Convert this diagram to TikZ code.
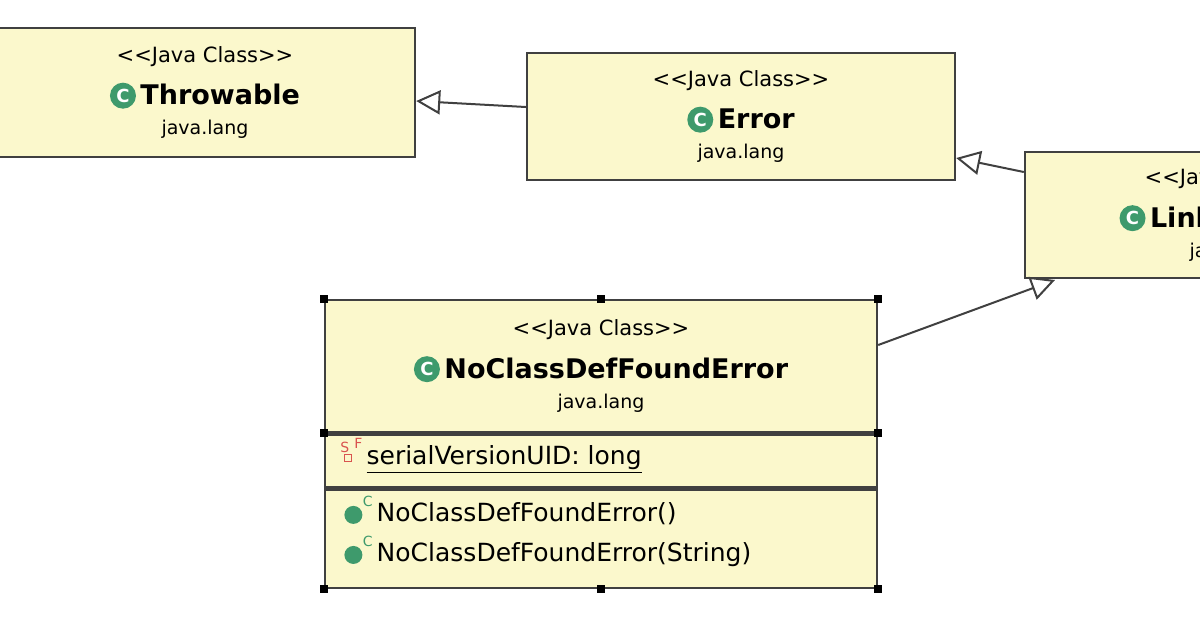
\documentclass[tikz,border=0pt]{standalone}
\usepackage{fontspec}
\setmainfont{DejaVu Sans}
\usetikzlibrary{arrows.meta,positioning}
\definecolor{umlfill}{HTML}{FBF8CC}
\definecolor{icongreen}{HTML}{3E9A6C}
\definecolor{iconred}{HTML}{D9534F}
\tikzset{icon/.style={baseline=-0.6ex, every node/.style={minimum width=0pt, minimum height=0pt, inner sep=0pt, draw=none, fill=none}}}
\newcommand{\clsicon}{\tikz[icon]{\fill[icongreen] (0,0) circle (6.5pt);\node[white,font=\fontsize{9}{9}\bfseries\selectfont] at (0,0) {C};}\,}
\newcommand{\ctoricon}{\tikz[icon]{\fill[icongreen] (0,-1pt) circle (4.5pt);\node[font=\fontsize{7}{7}\selectfont,icongreen] at (4.5pt,6pt) {C};}}
\newcommand{\fieldicon}{\tikz[icon]{\node[font=\fontsize{7}{7}\selectfont,iconred] at (0,4pt) {S};\draw[iconred] (2pt,-3pt) rectangle (5.5pt,0.5pt);\node[font=\fontsize{7}{7}\selectfont,iconred] at (7pt,6pt) {F};}\,}
\newcommand{\umlhead}[1]{{\fontsize{10.5}{12}\selectfont <{}<Java Class>{}>}\\[7pt]{\fontsize{13.5}{16}\bfseries\selectfont\clsicon #1}\\[3pt]{\fontsize{9.5}{11}\selectfont java.lang}}
\begin{document}
\begin{tikzpicture}[x=0.5pt,y=-0.5pt,
    umlbox/.style={draw=black!75, line width=1.2pt, fill=umlfill, inner sep=0, align=center},
    member/.style={font=\fontsize{12.5}{14}\selectfont, anchor=west, inner sep=0},
    handle/.style={fill=black, minimum size=4pt, inner sep=0},
    inherit/.style={-{Triangle[open, length=12pt, width=12pt]}, draw=black!75, line width=1pt}]
\useasboundingbox (0,0) rectangle (1200,628);
\begin{scope}
\clip (0,0) rectangle (1200,628);
\node[umlbox, minimum width=210pt, minimum height=64.5pt] (Throwable) at (205,92.5) {\umlhead{Throwable}};
\node[umlbox, minimum width=214pt, minimum height=63.5pt] (Error) at (741,116.5) {\umlhead{Error}};
\node[umlbox, minimum width=208pt, minimum height=63pt] (Linkage) at (1233,215) {\umlhead{LinkageError}};
\end{scope}
\coordinate (linkfoot) at (1055,280);
% NoClassDefFoundError with compartments
\node[umlbox, minimum width=276pt, minimum height=66pt] (NCDFE) at (601,366) {\umlhead{NoClassDefFoundError}};
\node[umlbox, minimum width=276pt, minimum height=26.5pt, below=0pt of NCDFE] (fields) {};
\node[umlbox, minimum width=276pt, minimum height=49pt, below=0pt of fields] (methods) {};
\node[member] (serial) at (340,456) {\fieldicon\underline{serialVersionUID: long}};
\node[member] (ctorA) at (344,510) {\ctoricon\,NoClassDefFoundError()};
\node[member] (ctorB) at (344,551) {\ctoricon\,NoClassDefFoundError(String)};
\foreach \p in {NCDFE.north west,NCDFE.north,NCDFE.north east,fields.north west,fields.north east,methods.south west,methods.south,methods.south east}
  \node[handle] at (\p) {};
% generalizations
\draw[inherit] (Error.west |- 0,107) -- (Throwable.east |- 0,101);
\draw[inherit] (Linkage.west |- 0,172) -- (Error.east |- 0,158);
\draw[inherit] (NCDFE.east |- 0,345) -- (linkfoot);
\end{tikzpicture}
\end{document}
